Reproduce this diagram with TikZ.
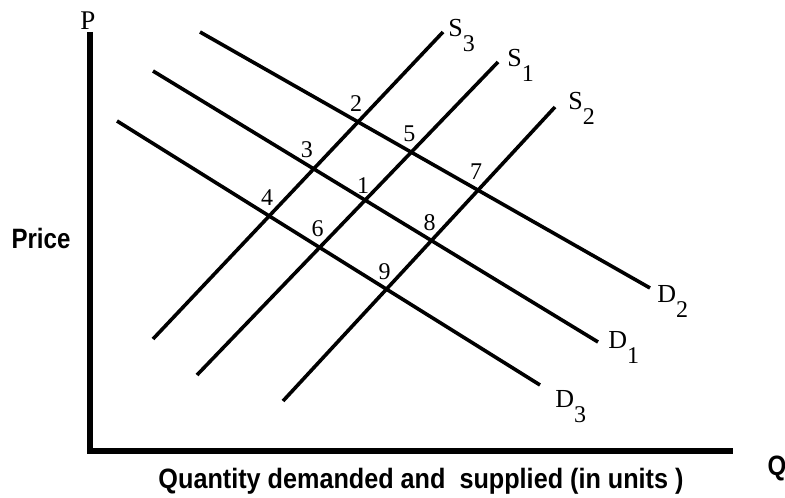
\documentclass[tikz,border=0pt]{standalone}
\usepackage{fontspec}
\setmainfont{Liberation Serif}
\newfontfamily\axisfont{Liberation Sans}
\usetikzlibrary{positioning}
\newcommand{\crvlab}[2]{#1\raisebox{-7.5pt}{\fontsize{12}{13}\selectfont #2}}
\newcommand{\narrow}[1]{\scalebox{0.86}[1]{#1}}

\begin{document}
\begin{tikzpicture}[x=0.5pt,y=-0.5pt,
  curve/.style={line width=1.8pt},
  axis/.style={line width=3.2pt},
  num/.style={font=\fontsize{12}{13}\selectfont,inner sep=0pt,xshift=-1pt},
  crv/.style={font=\fontsize{13}{14}\selectfont,inner sep=0pt,anchor=base west},
  ttl/.style={font=\axisfont\bfseries\fontsize{14}{15}\selectfont,inner sep=0pt,anchor=base}]
  \useasboundingbox (0,0) rectangle (785,497);
  % axes
  \coordinate (top) at (90,32);
  \coordinate (org) at (90,451);
  \coordinate (end) at (733,451);
  \draw[axis] (top) -- (org) -- (end);
  \node[font=\fontsize{13.5}{14}\selectfont,inner sep=0pt,anchor=base] (P) at (88,30) {P};
  \node[ttl] (Q) at (777,475) {\narrow{Q}};
  \node[ttl] (price) at (41,248) {\narrow{Price}};
  \node[ttl] (qty) at (421,488) {\scalebox{0.9}[1]{Quantity demanded and\ \ supplied (in units )}};
  % demand curves
  \coordinate (d2a) at (200,32);  \coordinate (d2b) at (650,288);
  \coordinate (d1a) at (153,71);  \coordinate (d1b) at (598,342);
  \coordinate (d3a) at (117,121); \coordinate (d3b) at (540,385);
  % supply curves
  \coordinate (s3a) at (153,339); \coordinate (s3b) at (443,32);
  \coordinate (s1a) at (197,375); \coordinate (s1b) at (498,62);
  \coordinate (s2a) at (283,401); \coordinate (s2b) at (555,107);
  \draw[curve] (d2a) -- (d2b);
  \draw[curve] (d1a) -- (d1b);
  \draw[curve] (d3a) -- (d3b);
  \draw[curve] (s3a) -- (s3b);
  \draw[curve] (s1a) -- (s1b);
  \draw[curve] (s2a) -- (s2b);
  \node[crv] (S3) at (448,37) {\crvlab{S}{3}};
  \node[crv] (S1) at (507,67) {\crvlab{S}{1}};
  \node[crv] (S2) at (568,110) {\crvlab{S}{2}};
  \node[crv] (D2) at (657,302) {\crvlab{D}{2}};
  \node[crv] (D1) at (608,348) {\crvlab{D}{1}};
  \node[crv] (D3) at (555,407) {\crvlab{D}{3}};
  % equilibrium points
  \coordinate (e1) at (intersection of d1a--d1b and s1a--s1b);
  \coordinate (e2) at (intersection of d2a--d2b and s3a--s3b);
  \coordinate (e3) at (intersection of d1a--d1b and s3a--s3b);
  \coordinate (e4) at (intersection of d3a--d3b and s3a--s3b);
  \coordinate (e5) at (intersection of d2a--d2b and s1a--s1b);
  \coordinate (e6) at (intersection of d3a--d3b and s1a--s1b);
  \coordinate (e7) at (intersection of d2a--d2b and s2a--s2b);
  \coordinate (e8) at (intersection of d1a--d1b and s2a--s2b);
  \coordinate (e9) at (intersection of d3a--d3b and s2a--s2b);
  \node[num,above=3pt of e1] (n1) {1};
  \node[num,above=5pt of e2] (n2) {2};
  \node[num,above=5.5pt of e3,xshift=-2.5pt] (n3) {3};
  \node[num,above=5pt of e4] (n4) {4};
  \node[num,above=5pt of e5] (n5) {5};
  \node[num,above=5pt of e6] (n6) {6};
  \node[num,above=5pt of e7] (n7) {7};
  \node[num,above=4.5pt of e8] (n8) {8};
  \node[num,above=4.5pt of e9] (n9) {9};
\end{tikzpicture}
\end{document}
